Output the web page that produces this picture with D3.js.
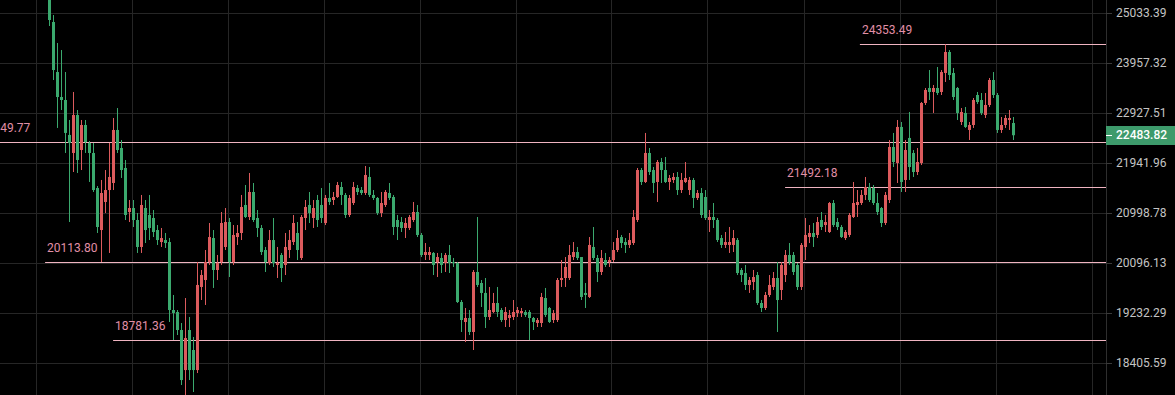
<!DOCTYPE html>
<html>
<head>
<meta charset="utf-8">
<script src="https://cdn.jsdelivr.net/npm/d3@7/dist/d3.min.js"></script>
<style>
  html, body { margin: 0; padding: 0; background: #000; overflow: hidden; }
  svg { display: block; }
  text { font-family: Roboto, "Noto Sans", sans-serif; }
</style>
</head>
<body>
<svg id="chart" width="1175" height="395"></svg>
<script>
// ---- daily OHLC bars (oldest first) ----
const open = [
  25770,24836,23768,23252,23191,22489,22136,22887,22194,22687,
  22331,22136,21465,20687,21203,21427,21560,22588,22233,21846,
  21017,21091,20870,20381,21091,20962,20907,20687,20470,20506,
  20470,19283,19249,18947,18292,18947,18617,18292,19677,19798,
  20114,20542,19973,20114,20381,20833,20114,20560,20633,21147,
  20925,21390,20907,20724,20327,20096,20506,20061,20238,20061,
  20327,20470,20633,20185,20907,21147,20907,21240,21147,20815,
  21278,21240,21296,21484,21334,20962,21184,21465,21427,21371,
  21674,21334,21278,20999,21147,21371,21296,20870,20833,20724,
  20724,20870,21017,20597,20238,20238,20274,20114,20185,20096,
  20238,20114,20096,19419,19081,19148,18914,19938,19746,19574,
  19165,19249,19402,19283,19114,19148,19165,19232,19232,19249,
  19249,19148,19064,19064,19487,19317,19114,19114,19798,19833,
  19833,20202,20291,20202,19574,19505,20381,20185,19938,20149,
  20114,20149,20327,20560,20470,20417,20452,20870,21807,21579,
  22136,21807,21579,21961,21807,21579,21617,21674,21427,21579,
  21427,21617,21278,21371,21296,20870,20925,20870,20542,20417,
  20417,20417,20506,19973,19920,19712,19763,19885,19402,19317,
  19539,19677,19833,19625,19885,20238,20238,20061,19677,20381,
  20560,20633,20597,20870,20778,20651,21184,20833,20742,20542,
  20597,20925,21147,21184,21334,21484,21465,21184,21091,20815,
  21240,22253,21942,22648,21617,22430,22136,21769,21942,23130,
  23437,23355,23437,23355,23748,24190,23748,23437,22747,22928,
  22588,22687,23293,23191,22887,23089,23602,23293,22588,22687,
  22787,22727
];
const high = [
  25998,24989,24382,24232,23768,22787,23355,22988,22787,22787,
  22370,22331,21503,21617,21807,22331,22827,23028,22390,22000,
  21240,21240,20999,21334,21240,21334,21054,20778,20724,20633,
  20542,19539,19283,19064,19487,19165,18831,20114,19973,20327,
  20815,20687,20238,21017,21091,20907,20778,20778,21334,21522,
  21750,21560,21054,20778,20381,20687,20907,20381,20274,20633,
  20687,20962,20833,20962,21240,21390,21240,21334,21465,21334,
  21560,21390,21579,21579,21371,21334,21579,21522,21484,21884,
  21865,21427,21296,21390,21427,21560,21334,20962,20925,20907,
  20962,21203,21147,20633,20452,20381,20291,20274,20274,20274,
  20417,20185,20114,19453,19317,19283,19973,20925,19798,19833,
  19677,19574,19677,19317,19334,19283,19453,19334,19317,19283,
  19283,19165,19148,19574,19660,19334,19283,19833,20149,20202,
  20417,20470,20381,20202,19746,20560,20742,20238,20327,20274,
  20202,20470,20687,20597,20542,20633,21054,21846,21846,22529,
  22233,21865,22000,22039,22058,21712,21750,21769,21750,21961,
  21674,21655,21427,21465,21427,21054,21184,20907,20597,20651,
  20742,20687,20542,20008,20061,19850,19973,19938,19453,19591,
  19885,19938,20114,20114,20327,20452,20291,20096,20452,20907,
  20778,20815,20925,21017,20962,21203,21240,20907,20778,20687,
  20999,21579,21427,21427,21674,21560,21522,21371,21110,21390,
  22390,22529,22787,22747,22390,22948,22194,22233,23150,23437,
  23810,23499,23873,23810,24353.49,24232,23852,23458,23028,23049,
  22747,23232,23355,23334,23334,23644,23768,23334,22847,22887,
  22988,22847
];
const low = [
  24749,23602,22628,22988,22136,20833,21769,21750,21807,22136,
  21579,21390,20633,20113.80,20999,20274,21427,22136,21655,20870,
  20833,20742,20274,20274,20452,20506,20560,20417,20381,20363,
  19081,18781.36,18864,18053,17895,18132,17942,18244,19453,19368,
  20061,19660,19798,20061,20327,19850,20061,20417,20506,20907,
  20870,20833,20560,20238,19938,20061,20026,19833,19763,19885,
  20185,20417,20149,20149,20687,20815,20724,20742,20815,20778,
  21147,21147,21278,21147,20907,20925,21147,21334,21334,21334,
  21296,21240,20962,20925,21110,21240,20597,20506,20651,20542,
  20687,20833,20560,20202,20149,20149,19885,19850,19920,19938,
  19920,20026,19402,18914,18748,18864,18617,19677,19334,18980,
  19114,19232,19165,19081,18997,18997,19114,19165,19165,19165,
  18781,18947,18997,18997,19165,19064,19064,19081,19677,19677,
  19798,20149,20149,19453,19317,19487,20149,19763,19885,20026,
  20026,20114,20291,20363,20274,20363,20417,20833,21522,21560,
  21712,21371,21203,21560,21560,21427,21560,21334,21371,21560,
  21334,21091,21240,20907,20870,20651,20724,20470,20363,20363,
  20274,20291,19885,19763,19625,19574,19625,19368,19249,19283,
  19505,19625,18914,19453,19763,20061,19885,19625,19625,20149,
  20452,20381,20542,20687,20651,20633,20742,20687,20542,20506,
  20560,20907,20925,21147,21240,21203,21147,20962,20742,20778,
  21184,21865,21560,21390,21390,21617,21674,21712,21903,23089,
  23191,22928,23293,23293,23561,23602,23191,22787,22687,22628,
  22390,22628,23110,22887,22827,23049,23232,22529,22529,22628,
  22588,22390
];
const close = [
  24880,23810,23252,23191,22529,22331,22887,22000,22687,22350,
  22136,21427,20742,21371,21427,21674,22588,22194,21807,20962,
  21091,20870,20381,21147,20687,20724,20651,20506,20542,20452,
  19283,19232,18947,18132,18814,18292,18292,19712,19885,20114,
  20560,19973,20096,20815,20833,20114,20597,20633,21110,20925,
  21390,20870,20724,20291,20114,20506,20096,20096,20008,20381,
  20506,20815,20327,20925,21110,20999,21091,20870,20907,21278,
  21203,21296,21522,21334,20962,21278,21484,21390,21371,21712,
  21334,21278,20999,21184,21390,21278,20742,20742,20724,20815,
  20925,21017,20597,20238,20291,20291,20061,20202,20061,20238,
  20096,20096,19419,19114,19148,18914,19938,19712,19574,19165,
  19283,19402,19249,19114,19249,19199,19249,19283,19266,19199,
  19148,19081,19114,19505,19199,19081,19232,19798,19833,20026,
  20238,20291,20185,19505,19539,20417,20185,19938,20185,20061,
  20149,20327,20542,20452,20417,20506,20925,21807,21579,22136,
  21769,21560,21961,21807,21579,21655,21674,21427,21617,21655,
  21617,21278,21371,20962,20907,20925,20870,20506,20417,20470,
  20470,20542,19920,19885,19712,19798,19850,19402,19317,19539,
  19712,19833,19453,20061,20238,20114,19938,19677,20417,20597,
  20633,20560,20833,20742,20833,21184,20778,20742,20560,20651,
  20962,21184,21203,21334,21484,21240,21184,21017,20815,21334,
  22253,21961,22648,21579,22194,21865,21769,21961,23130,23396,
  23355,23437,23334,23768,24190,23706,23252,22928,22948,22648,
  22687,23191,23150,22928,23089,23602,23293,22588,22687,22827,
  22827,22483.82
];

// ---- price axis ticks and horizontal levels ----
const priceTicks = [25033.39, 23957.32, 22927.51, 21941.96, 20998.78, 20096.13, 19232.29, 18405.59];
const levelPrices = [24353.49, 22349.77, 21492.18, 20113.80, 18781.36];
const levelFromBar = [202.8, -17.7, 184.1, -0.9, 16.1];
const lastPrice = close[close.length - 1];

// ---- layout ----
const W = 1175, H = 395;
const axisX = 1106;          // left edge of the price scale
const barCount = close.length;

const svg = d3.select('#chart');
svg.append('rect').attr('width', W).attr('height', H).attr('fill', '#000');

const x = d3.scaleLinear().domain([0, barCount - 1]).range([48.7, 1012.7]);
const y = d3.scaleLog().domain([18405.59, 25033.39]).range([363, 13]);
const crisp = v => Math.round(v) + 0.5;

svg.append('clipPath').attr('id', 'pane')
  .append('rect').attr('x', 0).attr('y', 0).attr('width', axisX).attr('height', H);
const pane = svg.append('g').attr('clip-path', 'url(#pane)');

// vertical time grid: one line every 24 bars
const timeGrid = d3.range(-3.3, barCount + 30, 24).filter(i => x(i) < axisX);
pane.append('g').selectAll('line').data(timeGrid).join('line')
  .attr('x1', d => crisp(x(d))).attr('x2', d => crisp(x(d)))
  .attr('y1', 0).attr('y2', H)
  .attr('stroke', '#262626').attr('stroke-width', 1);

// horizontal price grid
pane.append('g').selectAll('line').data(priceTicks).join('line')
  .attr('x1', 0).attr('x2', axisX)
  .attr('y1', d => crisp(y(d))).attr('y2', d => crisp(y(d)))
  .attr('stroke', '#262626').attr('stroke-width', 1);

// support / resistance levels
const levels = levelPrices.map((p, k) => ({ price: p, from: levelFromBar[k] }));
const lv = pane.append('g');
lv.selectAll('line').data(levels).join('line')
  .attr('x1', d => x(d.from)).attr('x2', axisX)
  .attr('y1', d => crisp(y(d.price))).attr('y2', d => crisp(y(d.price)))
  .attr('stroke', '#f0b4c1').attr('stroke-width', 1);
lv.selectAll('text').data(levels).join('text')
  .attr('x', d => x(d.from) + 2)
  .attr('y', d => Math.round(y(d.price)) - 10)
  .attr('fill', '#e08fa7').attr('font-size', 12)
  .text(d => d3.format('.2f')(d.price));

// candles (up = red, down = green)
const bars = d3.range(barCount).map(i => ({ i, o: open[i], h: high[i], l: low[i], c: close[i] }));
const upColor = '#dc5b5d', downColor = '#3ba96e';
const colorOf = d => d.c > d.o ? upColor : downColor;
const cg = pane.append('g');
cg.selectAll('line').data(bars).join('line')
  .attr('x1', d => Math.round(x(d.i)) + 0.5).attr('x2', d => Math.round(x(d.i)) + 0.5)
  .attr('y1', d => y(d.h)).attr('y2', d => y(d.l))
  .attr('stroke', colorOf).attr('stroke-width', 1);
cg.selectAll('rect').data(bars).join('rect')
  .attr('x', d => Math.round(x(d.i)) - 1)
  .attr('width', 3)
  .attr('y', d => y(Math.max(d.o, d.c)))
  .attr('height', d => Math.max(1, Math.abs(y(d.o) - y(d.c))))
  .attr('fill', colorOf);

// price scale
svg.append('line')
  .attr('x1', axisX + 0.5).attr('x2', axisX + 0.5).attr('y1', 0).attr('y2', H)
  .attr('stroke', '#2e2e2e');
const axis = d3.axisRight(y).tickValues(priceTicks).tickFormat(d3.format('.2f'))
  .tickSize(6).tickPadding(4);
const ag = svg.append('g').attr('transform', `translate(${axisX},0)`).call(axis);
ag.select('.domain').remove();
ag.selectAll('.tick line').attr('stroke', '#3a3a3a');
ag.selectAll('.tick text').attr('fill', '#c4c4c4').attr('font-size', 12)
  .attr('font-family', 'Roboto, "Noto Sans", sans-serif');

// last price marker
const ly = y(lastPrice);
svg.append('rect').attr('x', axisX).attr('y', Math.round(ly) - 9)
  .attr('width', W - axisX).attr('height', 19).attr('fill', '#3d9a6b');
svg.append('line').attr('x1', axisX).attr('x2', axisX + 6)
  .attr('y1', crisp(ly)).attr('y2', crisp(ly)).attr('stroke', '#fff');
svg.append('text').attr('x', axisX + 10).attr('y', ly).attr('dy', '0.35em')
  .attr('fill', '#fff').attr('font-size', 12).attr('font-weight', 500)
  .text(d3.format('.2f')(lastPrice));
</script>
</body>
</html>
